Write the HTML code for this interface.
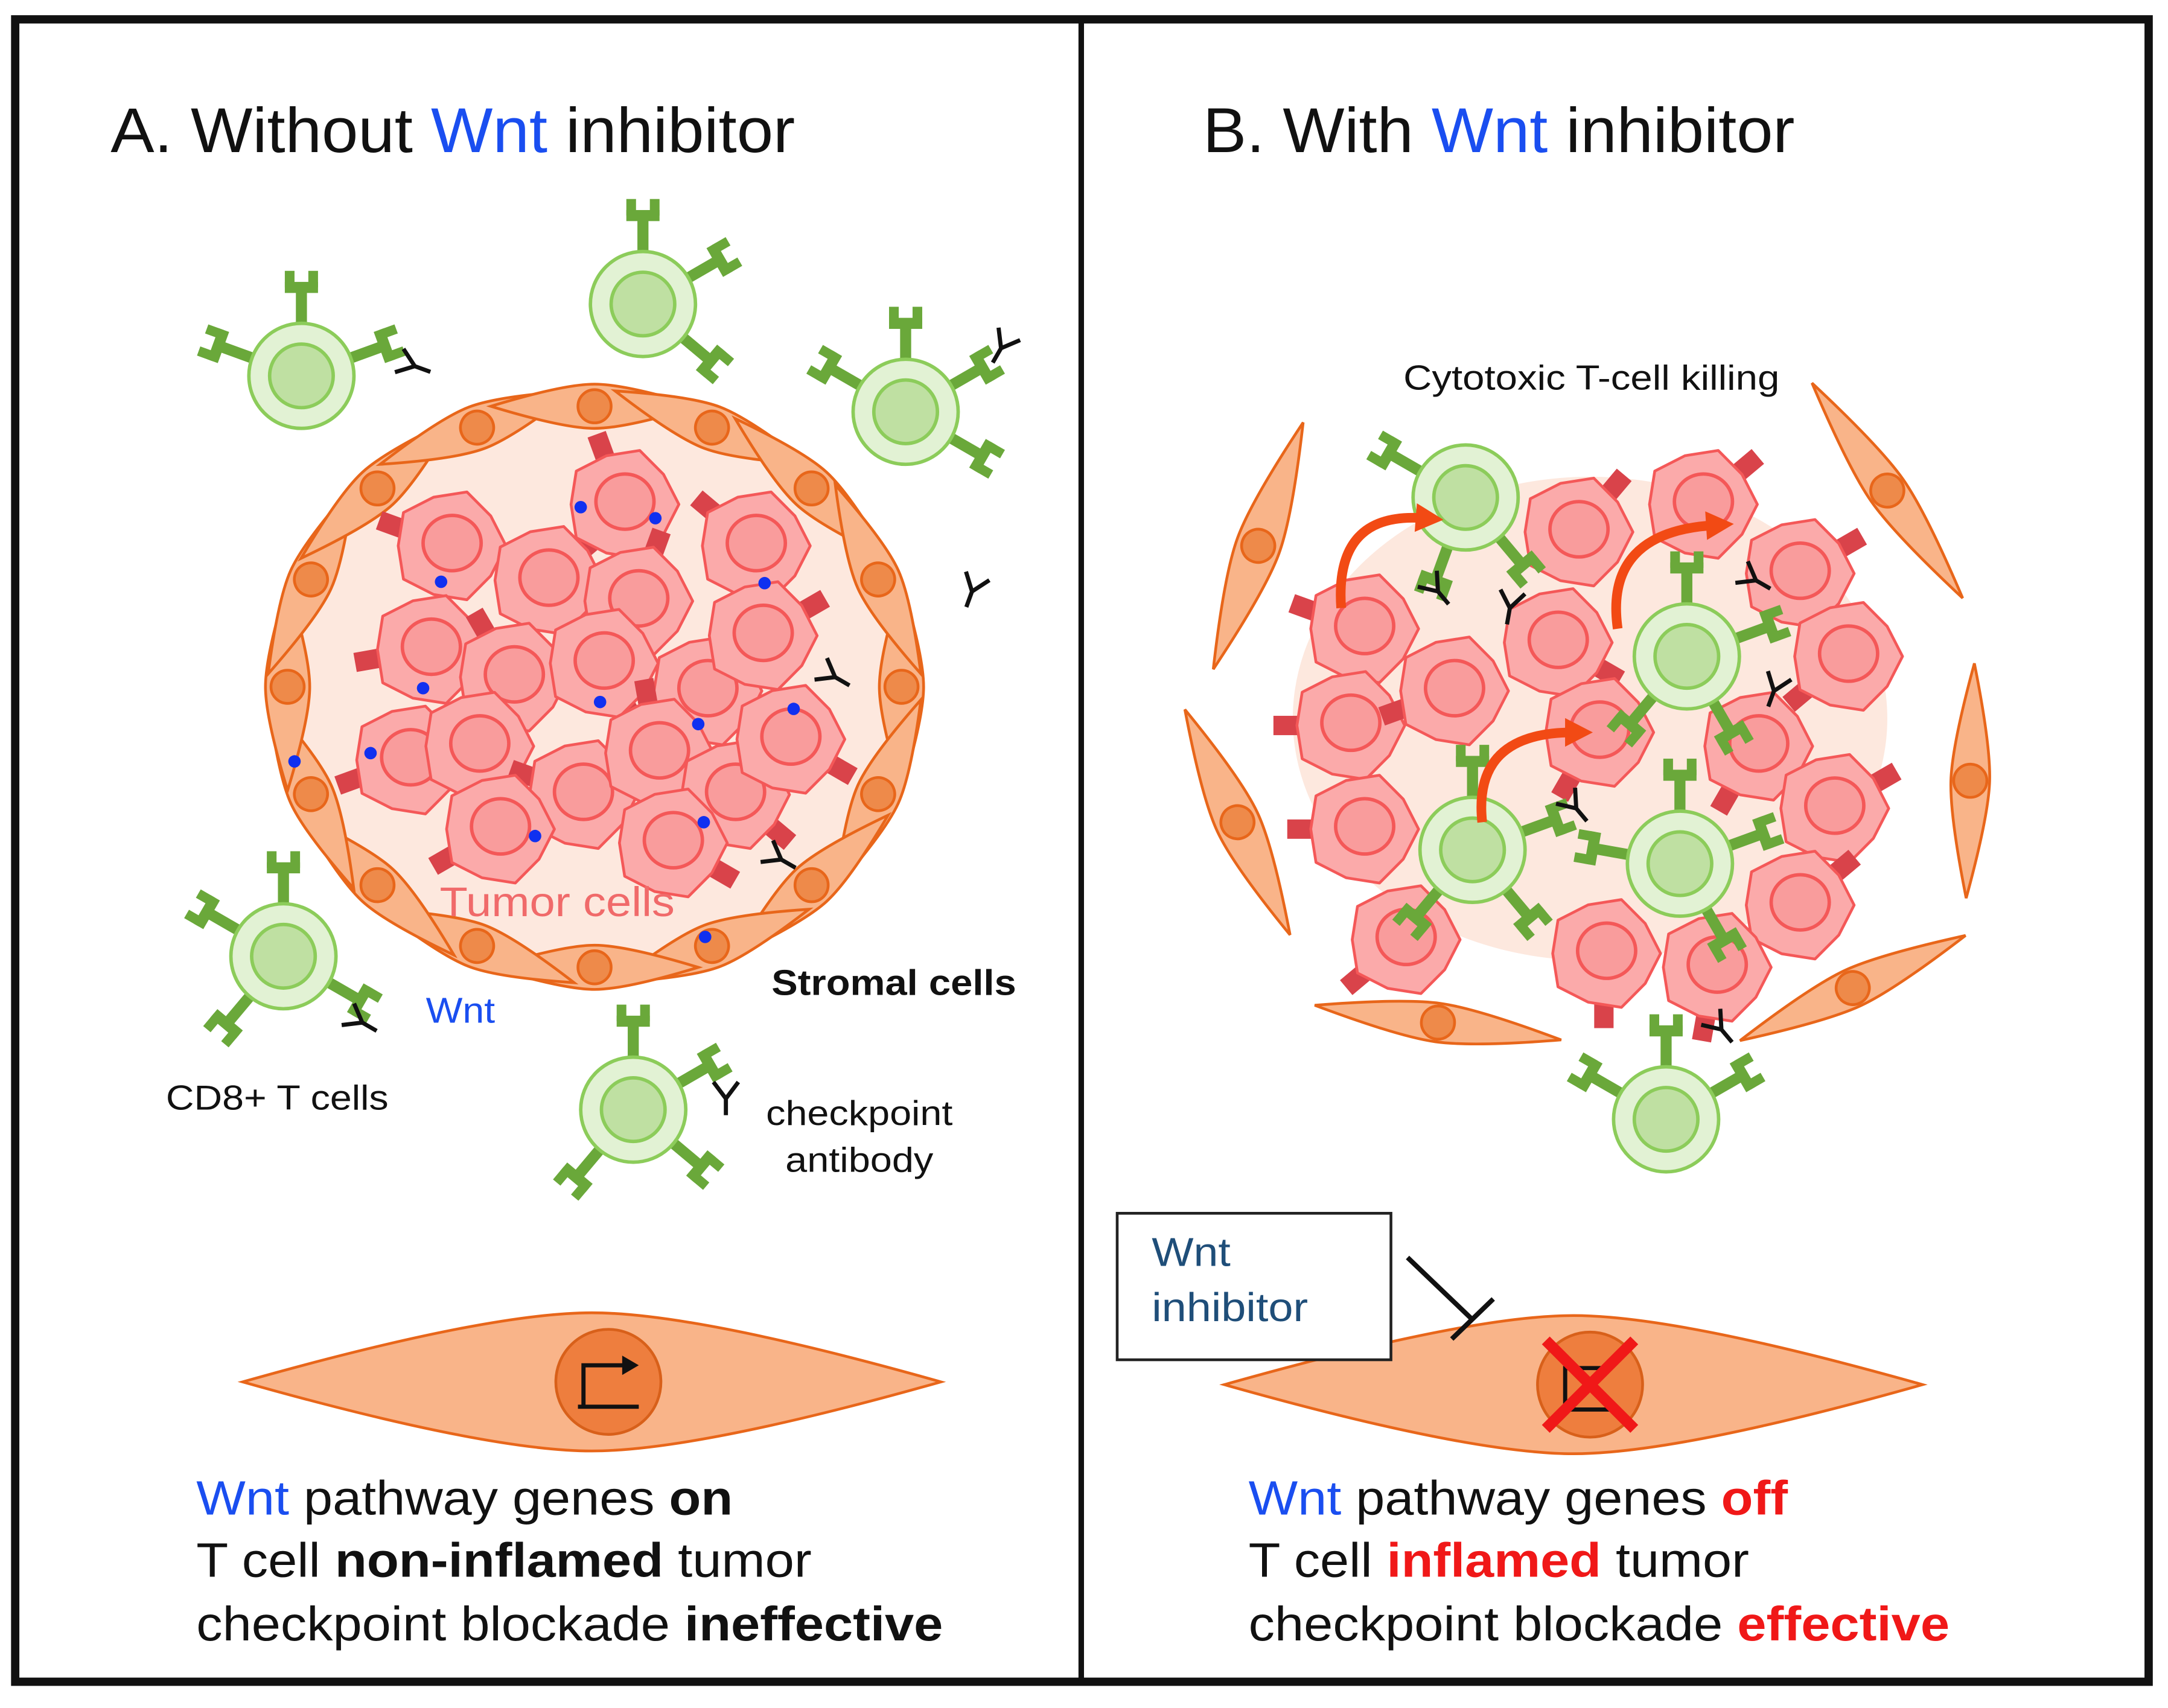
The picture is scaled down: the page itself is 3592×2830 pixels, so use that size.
<!DOCTYPE html>
<html><head><meta charset="utf-8"><style>
html,body{margin:0;padding:0;background:#fff}
svg{display:block}
text{font-family:"Liberation Sans",Arial,sans-serif}
</style></head><body>
<svg id="s" width="3592" height="2830" viewBox="0 0 1568 1236" preserveAspectRatio="none" xmlns="http://www.w3.org/2000/svg">
<rect x="0" y="0" width="1568" height="1236" fill="#fff"/>
<g id="g"></g>
<rect x="11" y="14" width="1543" height="1203" fill="none" stroke="#111" stroke-width="6"/>
<line x1="782" y1="14" x2="782" y2="1217" stroke="#111" stroke-width="4"/>
<text x="80" y="110" font-size="46" fill="#111" textLength="495" lengthAdjust="spacingAndGlyphs">A. Without <tspan fill="#1a4ef0">Wnt</tspan> inhibitor</text>
<text x="870" y="110" font-size="46" fill="#111" textLength="428" lengthAdjust="spacingAndGlyphs">B. With <tspan fill="#1a4ef0">Wnt</tspan> inhibitor</text>
<text x="318" y="663" font-size="30" fill="#f06a6a" textLength="170" lengthAdjust="spacingAndGlyphs">Tumor cells</text>
<text x="558" y="720" font-size="26" font-weight="bold" fill="#111" textLength="177" lengthAdjust="spacingAndGlyphs">Stromal cells</text>
<text x="308" y="740" font-size="26" fill="#1a4ef0" textLength="50" lengthAdjust="spacingAndGlyphs">Wnt</text>
<text x="120" y="803" font-size="25" fill="#111" textLength="161" lengthAdjust="spacingAndGlyphs">CD8+ T cells</text>
<text x="554" y="814" font-size="25" fill="#111" textLength="135" lengthAdjust="spacingAndGlyphs">checkpoint</text>
<text x="568" y="848" font-size="25" fill="#111" textLength="107" lengthAdjust="spacingAndGlyphs">antibody</text>
<text x="1015" y="282" font-size="25" fill="#111" textLength="272" lengthAdjust="spacingAndGlyphs">Cytotoxic T-cell killing</text>
<rect x="808" y="878" width="198" height="106" fill="#fff" stroke="#222" stroke-width="2"/>
<text x="833" y="916" font-size="29" fill="#1f4e79" textLength="57" lengthAdjust="spacingAndGlyphs">Wnt</text>
<text x="833" y="956" font-size="29" fill="#1f4e79" textLength="113" lengthAdjust="spacingAndGlyphs">inhibitor</text>
<text x="142" y="1096" font-size="35" fill="#111" textLength="388" lengthAdjust="spacingAndGlyphs"><tspan fill="#1a4ef0">Wnt</tspan> pathway genes <tspan font-weight="bold">on</tspan></text>
<text x="142" y="1141" font-size="35" fill="#111" textLength="445" lengthAdjust="spacingAndGlyphs">T cell <tspan font-weight="bold">non-inflamed</tspan> tumor</text>
<text x="142" y="1187" font-size="35" fill="#111" textLength="540" lengthAdjust="spacingAndGlyphs">checkpoint blockade <tspan font-weight="bold">ineffective</tspan></text>
<text x="903" y="1096" font-size="35" fill="#111" textLength="390" lengthAdjust="spacingAndGlyphs"><tspan fill="#1a4ef0">Wnt</tspan> pathway genes <tspan font-weight="bold" fill="#f01818">off</tspan></text>
<text x="903" y="1141" font-size="35" fill="#111" textLength="362" lengthAdjust="spacingAndGlyphs">T cell <tspan font-weight="bold" fill="#f01818">inflamed</tspan> tumor</text>
<text x="903" y="1187" font-size="35" fill="#111" textLength="507" lengthAdjust="spacingAndGlyphs">checkpoint blockade <tspan font-weight="bold" fill="#f01818">effective</tspan></text>
</svg>
<script>
var g=document.getElementById('g'),out='';
function spindle(cx,cy,len,w,ang,nuc){
 var h=len/2;
 out+='<g transform="translate('+cx+','+cy+') rotate('+ang+')"><path d="M'+(-h)+',0 Q'+(-h*0.3)+','+(-w)+' 0,'+(-w)+' Q'+(h*0.3)+','+(-w)+' '+h+',0 Q'+(h*0.3)+','+w+' 0,'+w+' Q'+(-h*0.3)+','+w+' '+(-h)+',0Z" fill="#f9b489" stroke="#e8661a" stroke-width="2"/>';
 if(nuc)out+='<circle cx="0" cy="0" r="'+nuc+'" fill="#ee8a4a" stroke="#e8661a" stroke-width="2"/>';
 out+='</g>';
}
function tumor(cx,cy,ang){
 var pts=[],n=10;
 for(var i=0;i<n;i++){var a=i/n*Math.PI*2,r=(i%2?37:41);pts.push((cx+r*Math.cos(a)).toFixed(1)+','+(cy+r*Math.sin(a)).toFixed(1));}
 var ra=ang||30;
 out+='<g transform="rotate('+ra+' '+cx+' '+cy+')"><rect x="'+(cx+36)+'" y="'+(cy-7)+'" width="18" height="14" fill="#d9434a"/></g>';
 out+='<polygon points="'+pts.join(' ')+'" fill="#fbaaaa" stroke="#f45858" stroke-width="2" stroke-linejoin="round"/>';
 out+='<ellipse cx="'+(cx+2)+'" cy="'+(cy-2)+'" rx="21" ry="20" fill="#f99c9c" stroke="#f45858" stroke-width="2.5"/>';
}
function recp(cx,cy,a){
 out+='<g transform="translate('+cx+','+cy+') rotate('+a+')" fill="#6aa83a"><rect x="-4" y="-62" width="8" height="26"/><rect x="-12" y="-68" width="24" height="8"/><rect x="-12" y="-76" width="7" height="12"/><rect x="5" y="-76" width="7" height="12"/></g>';
}
function tcell(cx,cy,angs){
 (angs||[0,70,150,290]).forEach(function(a){recp(cx,cy,a)});
 out+='<circle cx="'+cx+'" cy="'+cy+'" r="38" fill="#e2f2d4" stroke="#8ccc5a" stroke-width="2.5"/>';
 out+='<circle cx="'+cx+'" cy="'+cy+'" r="23" fill="#bfe0a2" stroke="#8ccc5a" stroke-width="2.5"/>';
}
function ab(x,y,a){
 out+='<g transform="translate('+x+','+y+') rotate('+a+')" stroke="#111" stroke-width="3" fill="none"><path d="M0,12 L0,0 L-9,-12 M0,0 L9,-12"/></g>';
}
out+='<ellipse cx="430" cy="497" rx="225" ry="205" fill="#fde8de"/>';
var N=16;
for(var i=0;i<N;i++){var t=i/N*Math.PI*2,x=430+222*Math.cos(t),y=497+203*Math.sin(t);
 var ang=Math.atan2(203*Math.cos(t),-222*Math.sin(t))*180/Math.PI;
 spindle(x,y,150,16,ang,12);}
var L=[[325,395,200],[395,420,-40],[450,365,250],[545,395,220],[460,435,-70],[310,470,170],[370,490,-120],[435,480,60],[510,500,-60],[550,460,-30],[295,550,160],[345,540,100],[420,575,200],[475,545,-100],[530,575,40],[570,535,30],[360,600,150],[485,610,30]];
L.forEach(function(c){tumor(c[0],c[1],c[2])});
[[420,367],[474,375],[319,421],[553,422],[306,498],[434,508],[505,524],[574,513],[268,545],[213,551],[387,605],[509,595],[510,678]].forEach(function(p){out+='<circle cx="'+p[0]+'" cy="'+p[1]+'" r="4.5" fill="#1030f0"/>';});
tcell(218,272,[0,-70,70]);tcell(465,220,[0,60,130]);tcell(655,298,[0,60,120,-60]);tcell(205,692,[-60,0,120,220]);tcell(458,803,[0,60,130,220]);
ab(300,265,-70);ab(724,252,30);ab(703,428,20);ab(604,490,-60);ab(565,622,-60);ab(262,740,-60);ab(525,795,0);
out+='<ellipse cx="1150" cy="520" rx="215" ry="175" fill="#fde8de"/>';
spindle(910,395,190,16,-70,12);spindle(1365,355,190,14,55,12);spindle(895,595,180,16,65,12);spindle(1425,565,170,14,-88,12);spindle(1040,740,180,14,8,12);spindle(1340,715,180,14,-25,12);
var R=[[985,455,200],[975,525,180],[985,600,180],[1050,500,160],[1140,385,-50],[1230,365,-40],[1300,415,-30],[1125,465,30],[1155,530,120],[1270,540,120],[1335,475,140],[1325,585,-30],[1300,655,-40],[1015,680,140],[1160,690,90],[1240,700,100]];
R.forEach(function(c){tumor(c[0],c[1],c[2])});
tcell(1060,360,[-60,200,140]);tcell(1220,475,[0,70,150,220]);tcell(1065,615,[0,70,140,220]);tcell(1215,625,[0,70,150,280]);tcell(1205,810,[0,60,-60]);
ab(1040,428,-40);ab(1092,440,10);ab(1270,420,-60);ab(1283,500,20);ab(1140,585,-40);ab(1245,745,-40);
function arr(x1,y1,cx,cy,x2,y2){
 out+='<path d="M'+x1+','+y1+' Q'+cx+','+cy+' '+x2+','+y2+'" fill="none" stroke="#f24a14" stroke-width="7"/>';
 var a=Math.atan2(y2-cy,x2-cx);
 out+='<polygon points="'+(x2+14*Math.cos(a))+','+(y2+14*Math.sin(a))+' '+(x2+12*Math.cos(a+2.1))+','+(y2+12*Math.sin(a+2.1))+' '+(x2+12*Math.cos(a-2.1))+','+(y2+12*Math.sin(a-2.1))+'" fill="#f24a14"/>';
}
arr(970,440,965,370,1030,375);arr(1170,455,1160,385,1240,380);arr(1072,595,1065,530,1138,530);
spindle(428,1000,505,50,0,0);
out+='<circle cx="440" cy="1000" r="38" fill="#ee7e3e" stroke="#d8601a" stroke-width="2"/><path d="M422,1018 L422,988 L456,988 M462,1018 L418,1018" stroke="#111" stroke-width="3" fill="none"/><polygon points="450,981 462,988 450,995" fill="#111"/>';
spindle(1138,1002,505,50,0,0);
out+='<circle cx="1150" cy="1002" r="38" fill="#ee7e3e" stroke="#d8601a" stroke-width="2"/><path d="M1132,1020 L1132,990 L1166,990 M1172,1020 L1128,1020" stroke="#111" stroke-width="3" fill="none"/><path d="M1118,970 L1182,1034 M1182,970 L1118,1034" stroke="#f01818" stroke-width="8"/>';
out+='<path d="M1018,910 L1065,955 M1050,969 L1080,940" stroke="#111" stroke-width="3.5" fill="none"/>';
g.innerHTML=out;
</script>
</body></html>
